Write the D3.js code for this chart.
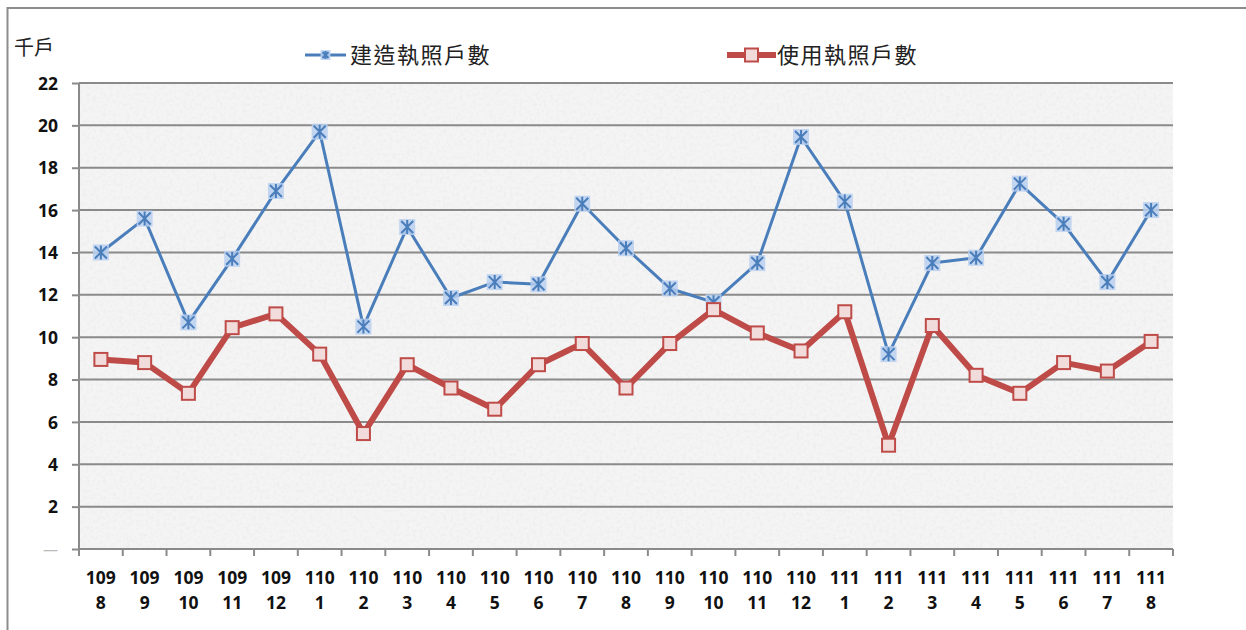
<!DOCTYPE html>
<html><head><meta charset="utf-8">
<script src="https://cdn.jsdelivr.net/npm/d3@7"></script>
<style>
html,body{margin:0;padding:0;background:#fff;}
svg{display:block;}
</style></head>
<body>
<svg id="chart" width="1246" height="630"></svg>
<script>
const years  = ["109","109","109","109","109","110","110","110","110","110","110","110","110","110","110","110","110","111","111","111","111","111","111","111","111"];
const months = ["8","9","10","11","12","1","2","3","4","5","6","7","8","9","10","11","12","1","2","3","4","5","6","7","8"];
const categories = years.map((y,i)=>y+"/"+months[i]);
const buildPermits = [14.0,15.6,10.7,13.7,16.9,19.7,10.5,15.2,11.85,12.6,12.5,16.3,14.2,12.3,11.65,13.5,19.45,16.4,9.2,13.5,13.75,17.25,15.35,12.6,16.0];
const usePermits   = [8.95,8.8,7.35,10.45,11.1,9.2,5.45,8.7,7.6,6.6,8.7,9.7,7.6,9.7,11.3,10.2,9.35,11.2,4.9,10.55,8.2,7.35,8.8,8.4,9.8];
const yTicks = [0,2,4,6,8,10,12,14,16,18,20,22];
const seriesNames = ["建造執照戶數","使用執照戶數"];
const unitLabel = "千戶";

const svg = d3.select("#chart");
const M = {left:79, right:1173, top:83, bottom:549};
const cjkFont = "'Noto Sans CJK TC', 'Noto Sans CJK JP', sans-serif";
const numFont = "'Open Sans', sans-serif";

// frame (only top and left visible)
svg.append("rect").attr("x",7.5).attr("y",8).attr("width",1300).attr("height",700)
  .attr("fill","none").attr("stroke","#8c8c8c").attr("stroke-width",2);

const x = d3.scaleBand().domain(categories).range([M.left,M.right]).padding(0);
const y = d3.scaleLinear().domain([0,22]).range([M.bottom,M.top]);

// texture
const defs = svg.append("defs");
const f = defs.append("filter").attr("id","noise").attr("x",0).attr("y",0).attr("width","100%").attr("height","100%");
f.append("feTurbulence").attr("type","fractalNoise").attr("baseFrequency","0.3").attr("numOctaves",3).attr("seed",7).attr("result","t");
f.append("feColorMatrix").attr("type","matrix")
  .attr("values","0 0 0 0 0.80  0 0 0 0 0.80  0 0 0 0 0.80  0 0 0 -2.6 1.45");
svg.append("rect").attr("x",M.left).attr("y",M.top).attr("width",M.right-M.left).attr("height",M.bottom-M.top)
  .attr("fill","#f4f4f4");
svg.append("rect").attr("x",M.left).attr("y",M.top).attr("width",M.right-M.left).attr("height",M.bottom-M.top)
  .attr("fill","#fff").attr("filter","url(#noise)").attr("opacity",0.45);

// gridlines
svg.append("g").selectAll("line").data(yTicks.filter(d=>d>0)).join("line")
  .attr("x1",M.left).attr("x2",M.right).attr("y1",d=>y(d)).attr("y2",d=>y(d))
  .attr("stroke","#8a8a8a").attr("stroke-width",2);

// y axis
const yAxis = d3.axisLeft(y).tickValues(yTicks).tickSize(7).tickPadding(14)
  .tickFormat(d=>d===0?"—":d);
const gy = svg.append("g").attr("transform",`translate(${M.left},0)`).call(yAxis);
gy.select(".domain").attr("stroke","#8a8a8a").attr("stroke-width",2).attr("d",`M0,${M.top}V${M.bottom}`);
gy.selectAll(".tick line").attr("stroke","#8a8a8a").attr("stroke-width",2);
gy.selectAll(".tick text").attr("font-family",numFont).attr("font-weight","bold")
  .attr("font-size",17.5).attr("fill","#111").attr("dy","0.35em");
gy.selectAll(".tick").filter(d=>d===0).select("text").attr("fill","#bbb").attr("font-weight","normal").attr("font-size",15);

// x axis
const gx = svg.append("g").attr("transform",`translate(0,${M.bottom})`);
gx.append("line").attr("x1",M.left).attr("x2",M.right).attr("stroke","#8a8a8a").attr("stroke-width",2);
const bounds = categories.map(c=>x(c)).concat([M.right]);
gx.selectAll("line.tk").data(bounds).join("line").attr("class","tk")
  .attr("x1",d=>d).attr("x2",d=>d).attr("y1",0).attr("y2",7).attr("stroke","#8a8a8a").attr("stroke-width",2);
const lbl = gx.selectAll("text").data(categories).join("text")
  .attr("text-anchor","middle").attr("font-family",numFont).attr("font-weight","bold")
  .attr("font-size",17.5).attr("fill","#111");
lbl.append("tspan").attr("x",d=>x(d)+x.bandwidth()/2).attr("y",35).text((d,i)=>years[i]);
lbl.append("tspan").attr("x",d=>x(d)+x.bandwidth()/2).attr("y",60).text((d,i)=>months[i]);

// unit label
svg.append("text").attr("x",14).attr("y",55).attr("font-family",cjkFont)
  .attr("font-size",20).attr("fill","#222").text(unitLabel);

const blue="#4a7ebb", red="#be4b48";
const cx = (d,i)=>x(categories[i])+x.bandwidth()/2;

function starMarker(g, px, py, sz){
  const h = sz||8;
  g.append("rect").attr("x",px-h).attr("y",py-h).attr("width",2*h).attr("height",2*h).attr("fill","#b8cff0").attr("opacity",0.85);
  const s=h-2;
  g.append("path").attr("d",`M${px-s},${py-s}L${px+s},${py+s}M${px-s},${py+s}L${px+s},${py-s}M${px},${py-s-1}L${px},${py+s+1}`)
    .attr("stroke",blue).attr("stroke-width",2).attr("fill","none");
}
function squareMarker(g, px, py){
  g.append("rect").attr("x",px-6.5).attr("y",py-6.5).attr("width",13).attr("height",13)
    .attr("fill","#f2dcdb").attr("stroke",red).attr("stroke-width",2);
}

// blue line
const line = d3.line().x(cx).y(d=>y(d));
svg.append("path").datum(buildPermits).attr("d",line).attr("fill","none").attr("stroke",blue).attr("stroke-width",3).attr("stroke-linejoin","round");
const gb = svg.append("g");
buildPermits.forEach((d,i)=>starMarker(gb,cx(d,i),y(d)));

// red line
svg.append("path").datum(usePermits).attr("d",line).attr("fill","none").attr("stroke",red).attr("stroke-width",6).attr("stroke-linejoin","round");
const gr = svg.append("g");
usePermits.forEach((d,i)=>squareMarker(gr,cx(d,i),y(d)));

// legend
const lg = svg.append("g");
lg.append("line").attr("x1",305).attr("x2",346).attr("y1",55).attr("y2",55).attr("stroke",blue).attr("stroke-width",3);
starMarker(lg,325.5,55,5);
lg.append("text").attr("x",350).attr("y",63).attr("font-family",cjkFont).attr("font-size",22).attr("letter-spacing",1.5).attr("fill","#222").text(seriesNames[0]);
lg.append("line").attr("x1",727).attr("x2",776).attr("y1",55).attr("y2",55).attr("stroke",red).attr("stroke-width",6);
squareMarker(lg,751.5,55);
lg.append("text").attr("x",777).attr("y",63).attr("font-family",cjkFont).attr("font-size",22).attr("letter-spacing",1.5).attr("fill","#222").text(seriesNames[1]);
</script>
</body></html>
